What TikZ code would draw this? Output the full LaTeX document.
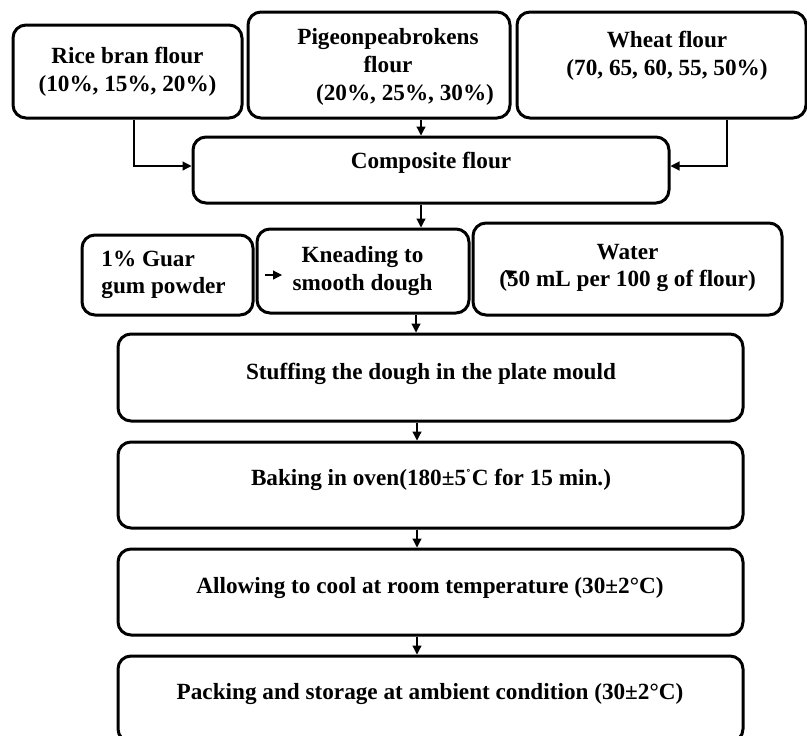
\documentclass[tikz,border=0pt]{standalone}
\usepackage{fontspec}
\setmainfont{Liberation Serif}
\usetikzlibrary{arrows.meta}
\begin{document}
\begin{tikzpicture}[x=0.5pt,y=-0.5pt,
  box/.style={draw=black,line width=1.5pt,rounded corners=6.5pt,rectangle,inner sep=0pt},
  txt/.style={font=\fontsize{11.6}{13.8}\selectfont\bfseries,align=center,inner sep=0pt},
  arr/.style={draw=black,line width=0.6pt,-{Triangle[width=4.5pt,length=4.5pt]}}]
\useasboundingbox (0,0) rectangle (807,735);
\clip (0,0) rectangle (807,735);
% boxes
\node[box,minimum width=114.5pt,minimum height=46.5pt] (rice) at (127.5,71.5) {};
\node[box,minimum width=131pt,minimum height=53pt] (pigeon) at (379,65) {};
\node[box,minimum width=144.5pt,minimum height=53pt] (wheat) at (661.5,65) {};
\node[box,minimum width=238pt,minimum height=33pt] (composite) at (431,170) {};
\node[box,minimum width=85.5pt,minimum height=40pt] (guar) at (167.5,275) {};
\node[box,minimum width=106pt,minimum height=42pt] (knead) at (363,271) {};
\node[box,minimum width=154.5pt,minimum height=46pt] (water) at (627.5,269) {};
\node[box,minimum width=312.5pt,minimum height=43.5pt] (stuff) at (430.5,377.5) {};
\node[box,minimum width=312.5pt,minimum height=43pt] (bake) at (430.5,485) {};
\node[box,minimum width=312.5pt,minimum height=43pt] (cool) at (430.5,592) {};
\node[box,minimum width=312.5pt,minimum height=43pt] (pack) at (430.5,699) {};
% texts
\node[txt] (ricet) at (127.5,72) {Rice bran flour\\(10\%, 15\%, 20\%)};
\node[txt] (pigeont) at (388,67) {Pigeonpeabrokens\\flour\\\hspace*{17pt}(20\%, 25\%, 30\%)};
\node[txt] (wheatt) at (667,56) {Wheat flour\\(70, 65, 60, 55, 50\%)};
\node[txt] (compt) at (431,163) {Composite flour};
\node[txt,align=left,anchor=west] (guart) at (101,275) {1\% Guar\\gum powder};
\node[txt] (kneadt) at (362.5,271) {Kneading to\\smooth dough};
\node[txt] (watert) at (627.5,268) {Water\\(50 mL per 100 g of flour)};
\node[txt] (stufft) at (431,374) {Stuffing the dough in the plate mould};
\node[txt] (baket) at (431,480) {Baking in oven(180±5\textsuperscript{\scriptsize\raisebox{-0.3ex}{˚}}C for 15 min.)};
\node[txt] (coolt) at (430,588) {Allowing to cool at room temperature (30±2°C)};
\node[txt] (packt) at (430,694) {Packing and storage at ambient condition (30±2°C)};
% spine coordinates
\coordinate (s1) at (421,0);
\coordinate (s2) at (416,0);
\coordinate (s3) at (417,0);
\coordinate (g1) at (265,275);
\coordinate (g2) at (282,275);
\coordinate (w1) at (514,276);
\coordinate (w2) at (505,270);
% connectors
\draw[arr] ([xshift=3.25pt]rice.south) |- ([yshift=2pt]composite.west);
\draw[arr] ([xshift=32.75pt]wheat.south) |- ([yshift=2pt]composite.east);
\draw[arr] (pigeon.south -| s1) -- (composite.north -| s1);
\draw[arr] (composite.south -| s1) -- (knead.north -| s1);
\draw[arr] (g1) -- (g2);
\draw[arr] (w1) -- (w2);
\draw[arr] (knead.south -| s2) -- (stuff.north -| s2);
\draw[arr] (stuff.south -| s3) -- (bake.north -| s3);
\draw[arr] (bake.south -| s3) -- (cool.north -| s3);
\draw[arr] (cool.south -| s3) -- (pack.north -| s3);
\end{tikzpicture}
\end{document}
